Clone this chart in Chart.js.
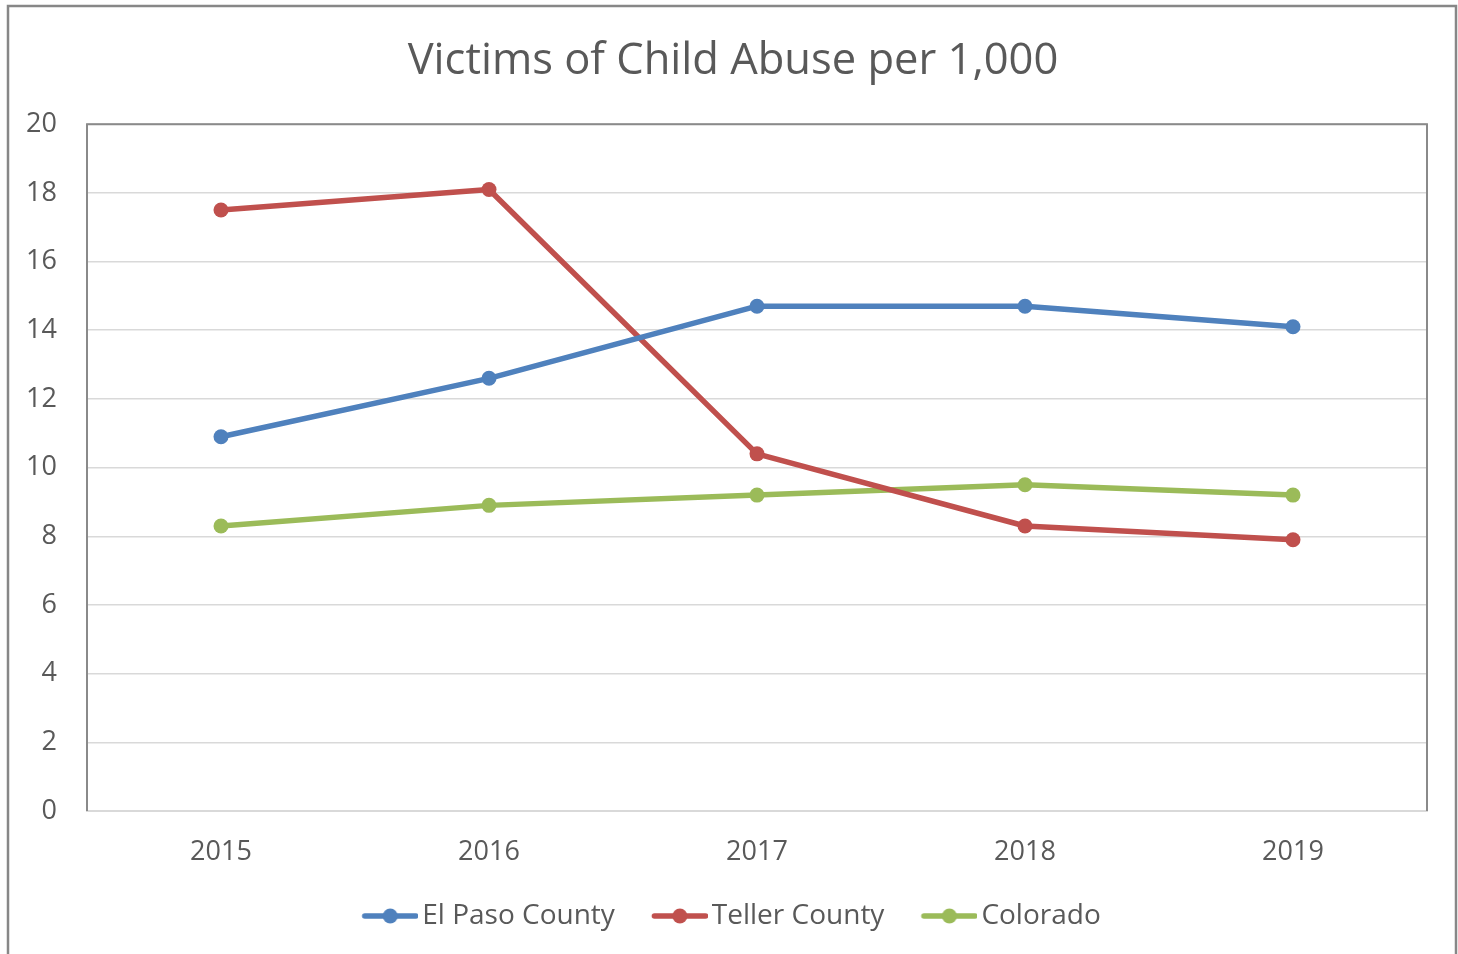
<!DOCTYPE html>
<html>
<head>
<meta charset="utf-8">
<script src="https://cdn.jsdelivr.net/npm/chart.js@4"></script>
<style>
  html, body { margin: 0; padding: 0; background: #fff; }
  #wrap { position: absolute; left: 0; top: 0; width: 1458px; height: 954px; }
</style>
</head>
<body>
<div id="wrap"><canvas id="c" width="1458" height="954"></canvas></div>
<script>
const years = ['2015', '2016', '2017', '2018', '2019'];
const elPaso = [10.9, 12.6, 14.7, 14.7, 14.1];
const teller = [17.5, 18.1, 10.4, 8.3, 7.9];
const colorado = [8.3, 8.9, 9.2, 9.5, 9.2];
const seriesNames = ['El Paso County', 'Teller County', 'Colorado'];
const seriesColors = ['#4F81BD', '#C0504D', '#9BBB59'];
const titleText = 'Victims of Child Abuse per 1,000';

const FONT = "'Open Sans', 'Noto Sans', sans-serif";
const TEXT = '#595959';
const LEG_FS = 28;
const LEG_PAD = 32;
const LEG_BOX = 51;   // pointStyleWidth

function legendImage(color) {
  const cv = document.createElement('canvas');
  cv.width = 71; cv.height = 16;
  const g = cv.getContext('2d');
  g.strokeStyle = color; g.lineWidth = 5.5; g.lineCap = 'round';
  g.beginPath(); g.moveTo(17.5, 8); g.lineTo(68.5, 8); g.stroke();
  g.fillStyle = color;
  g.beginPath(); g.arc(43, 8, 7.5, 0, Math.PI * 2); g.fill();
  return cv;
}
const legendImgs = seriesColors.map(legendImage);

const frame = {
  id: 'frame',
  afterLayout(chart) {
    const t = chart.titleBlock, l = chart.legend;
    if (t) { t.left = 9; t.right = 1457; t.width = 1448; }
    if (l) { l.left = 5; l.right = 1453; l.width = 1448; }
  },
  beforeDraw(chart) {
    const ctx = chart.ctx;
    ctx.save();
    ctx.fillStyle = '#fff';
    ctx.fillRect(0, 0, chart.width, chart.height);
    ctx.strokeStyle = '#878787';
    ctx.lineWidth = 2.5;
    ctx.strokeRect(8, 6, 1448, 1000);
    ctx.restore();
  },
  beforeDatasetsDraw(chart) {
    const {ctx, chartArea: a} = chart;
    ctx.save();
    ctx.strokeStyle = '#8a8a8a';
    ctx.lineWidth = 2;
    ctx.beginPath();
    ctx.moveTo(a.left, a.bottom);
    ctx.lineTo(a.left, a.top);
    ctx.lineTo(a.right, a.top);
    ctx.lineTo(a.right, a.bottom);
    ctx.stroke();
    ctx.restore();
  }
};

const mk = (i, data) => ({
  label: seriesNames[i],
  data,
  borderColor: seriesColors[i],
  backgroundColor: seriesColors[i],
  borderWidth: 5.5,
  pointRadius: 7.5,
  pointHoverRadius: 7.5,
  pointBorderWidth: 0,
  tension: 0,
  borderCapStyle: 'round',
  borderJoinStyle: 'round'
});

new Chart(document.getElementById('c'), {
  type: 'line',
  data: {
    labels: years,
    datasets: [mk(0, elPaso), mk(1, teller), mk(2, colorado)]
  },
  options: {
    responsive: false,
    animation: false,
    devicePixelRatio: 1,
    layout: { padding: { left: 0, right: 31, top: 0, bottom: 14 } },
    plugins: {
      title: {
        display: true,
        text: titleText,
        color: TEXT,
        font: { family: FONT, size: 43.5, weight: 'normal' },
        padding: { top: 36, bottom: 36 }
      },
      legend: {
        position: 'bottom',
        labels: {
          color: TEXT,
          font: { family: FONT, size: LEG_FS },
          usePointStyle: true,
          pointStyleWidth: LEG_BOX,
          padding: LEG_PAD,
          generateLabels(chart) {
            return chart.data.datasets.map((ds, i) => ({
              text: ds.label,
              fillStyle: ds.borderColor,
              strokeStyle: ds.borderColor,
              lineWidth: 0,
              pointStyle: legendImgs[i],
              fontColor: TEXT,
              datasetIndex: i,
              hidden: false
            }));
          }
        }
      },
      tooltip: { enabled: false }
    },
    scales: {
      x: {
        offset: true,
        grid: { display: false, drawTicks: false },
        border: { display: true, color: '#d9d9d9', width: 2 },
        ticks: { color: TEXT, font: { family: FONT, size: 27 }, padding: 25, maxRotation: 0 },
        afterFit(s) { s.height = 59; }
      },
      y: {
        min: 0, max: 20,
        grid: { color: '#d9d9d9', lineWidth: 1.5, drawTicks: false },
        border: { display: false },
        ticks: { stepSize: 2, color: TEXT, font: { family: FONT, size: 27 }, padding: 30 },
        afterFit(s) { s.width = 87; }
      }
    }
  },
  plugins: [frame]
});
</script>
</body>
</html>
